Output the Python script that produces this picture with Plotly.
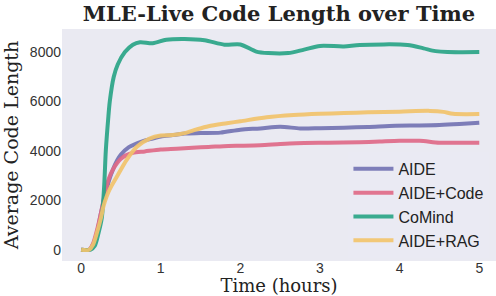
import plotly.graph_objects as go

# Time (hours) sample points
t_aide = [0, 0.1, 0.15, 0.2, 0.25, 0.3, 0.35, 0.4, 0.45, 0.5, 0.6, 0.75, 0.9, 1.0, 1.15, 1.3, 1.5, 1.75, 2.0, 2.25, 2.5, 2.75, 3.0, 3.3, 3.6, 3.95, 4.25, 4.5, 4.75, 5.0]
aide = [0, 0, 200, 700, 1500, 2200, 2800, 3250, 3600, 3850, 4150, 4370, 4500, 4580, 4640, 4700, 4720, 4740, 4860, 4910, 4980, 4910, 4920, 4940, 4970, 5020, 5030, 5050, 5090, 5140]

t_code = [0, 0.1, 0.15, 0.2, 0.25, 0.3, 0.35, 0.4, 0.45, 0.5, 0.57, 0.65, 0.8, 1.0, 1.2, 1.4, 1.6, 1.85, 2.0, 2.25, 2.5, 2.7, 3.1, 3.5, 3.75, 4.0, 4.25, 4.5, 4.75, 5.0]
aide_code = [0, 0, 250, 800, 1500, 2300, 2900, 3250, 3500, 3680, 3830, 3920, 3980, 4060, 4090, 4130, 4160, 4200, 4210, 4230, 4280, 4310, 4330, 4350, 4380, 4410, 4410, 4330, 4330, 4330]

t_comind = [0, 0.12, 0.17, 0.22, 0.26, 0.29, 0.31, 0.34, 0.36, 0.41, 0.46, 0.55, 0.65, 0.74, 0.9, 1.07, 1.3, 1.55, 1.8, 2.0, 2.2, 2.35, 2.6, 2.8, 3.0, 3.3, 3.5, 4.1, 4.3, 4.45, 4.6, 5.0]
comind = [0, 0, 150, 700, 1300, 2600, 4000, 5300, 6000, 7000, 7500, 8000, 8300, 8400, 8360, 8500, 8530, 8480, 8300, 8310, 8020, 7960, 7960, 8100, 8250, 8230, 8290, 8290, 8150, 8040, 8000, 8000]

t_rag = [0, 0.1, 0.15, 0.2, 0.25, 0.28, 0.32, 0.36, 0.45, 0.57, 0.7, 0.86, 1.0, 1.15, 1.3, 1.45, 1.6, 1.83, 2.0, 2.33, 2.67, 3.0, 3.3, 3.6, 4.0, 4.38, 4.55, 4.67, 5.0]
aide_rag = [0, 0, 200, 700, 1300, 1750, 2150, 2450, 2960, 3630, 4170, 4500, 4620, 4640, 4720, 4870, 5000, 5120, 5200, 5360, 5450, 5500, 5530, 5560, 5590, 5620, 5580, 5500, 5490]

names = ["AIDE", "AIDE+Code", "CoMind", "AIDE+RAG"]
colors = ["#7474b4", "#e06a88", "#2aa587", "#f2c46c"]
series = [(t_aide, aide), (t_code, aide_code), (t_comind, comind), (t_rag, aide_rag)]

xticks = [0, 1, 2, 3, 4, 5]
yticks = [0, 2000, 4000, 6000, 8000]

fig = go.Figure()
for name, col, (tx, ty) in zip(names, colors, series):
    fig.add_trace(go.Scatter(
        x=tx, y=ty, name=name, mode="lines",
        line=dict(color=col, width=4, shape="spline", smoothing=0.8),
        opacity=0.92,
    ))

fig.update_layout(
    width=496, height=296,
    margin=dict(l=62, r=0, t=29, b=35),
    paper_bgcolor="white",
    plot_bgcolor="#eaeaf2",
    title=dict(
        text="<b>MLE-Live Code Length over Time</b>",
        font=dict(family="DejaVu Serif", size=21, color="#222222"),
        x=0.5625, xanchor="center", y=0.955, yanchor="middle",
    ),
    xaxis=dict(
        range=[-0.24, 5.21], tickvals=xticks, showgrid=False, zeroline=False,
        tickfont=dict(family="Liberation Sans, Arial", size=14, color="#333333"),
        title=dict(text="Time (hours)", font=dict(family="DejaVu Serif", size=18, color="#222222"), standoff=1),
        ticks="", showline=False, ticklabelstandoff=-3,
    ),
    yaxis=dict(
        range=[-457, 8935], tickvals=yticks, showgrid=False, zeroline=False,
        tickfont=dict(family="Liberation Sans, Arial", size=14, color="#333333"),
        title=dict(text="Average Code Length", font=dict(family="DejaVu Serif", size=19, color="#222222"), standoff=6),
        ticks="", showline=False,
    ),
    legend=dict(
        x=0.66, y=0.47, xanchor="left", yanchor="top",
        bgcolor="rgba(234,234,242,0.8)", borderwidth=0,
        font=dict(family="Liberation Sans, Arial", size=16, color="#222222"),
        itemwidth=40, tracegroupgap=0,
    ),
    showlegend=True,
)

fig.write_html(
    "out.html",
    config={"displayModeBar": False},
    post_script="document.body.style.margin='0';document.body.style.overflow='hidden';",
)
